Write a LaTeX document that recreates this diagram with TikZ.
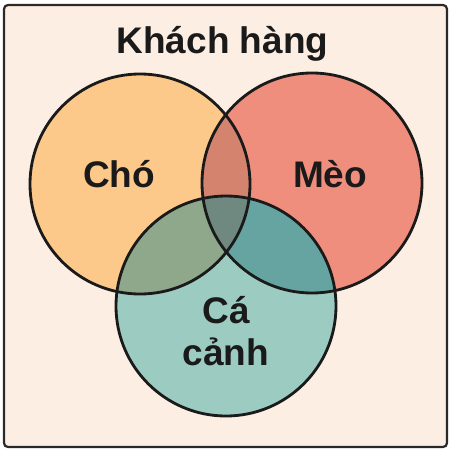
\documentclass[tikz,border=0pt]{standalone}
\usepackage{fontspec}
\setmainfont{Liberation Sans}
\definecolor{bg}{HTML}{FCEEE2}
\definecolor{framec}{HTML}{2A2A2A}
\definecolor{cdog}{HTML}{FDC98B}
\definecolor{ccat}{HTML}{EF8E7D}
\definecolor{cfish}{HTML}{9BCBC1}
\definecolor{cdc}{HTML}{D4836F}
\definecolor{cdf}{HTML}{8FA78A}
\definecolor{ccf}{HTML}{66A4A1}
\definecolor{call}{HTML}{6F8980}
\definecolor{txt}{HTML}{1A1A1A}
\begin{document}
\begin{tikzpicture}[x=1pt,y=-1pt,
  vennc/.style={circle, draw=txt, line width=2.8pt, minimum size=220pt, inner sep=0pt},
  lbl/.style={font=\bfseries\fontsize{37}{42}\selectfont, text=txt, inner sep=0pt}]
\useasboundingbox (0,0) rectangle (454,453);
\fill[white] (0,0) rectangle (454,453);
\def\dogc{(140,184) circle[radius=110]}
\def\catc{(312,183) circle[radius=110]}
\def\fishc{(226,306) circle[radius=110]}
\node[draw=framec, line width=2.2pt, fill=bg, rounded corners=4pt,
  minimum width=443pt, minimum height=442pt, inner sep=0pt] (frame) at (225.5,226) {};
\fill[cdog] \dogc;
\fill[ccat] \catc;
\fill[cfish] \fishc;
\begin{scope}\clip \dogc; \fill[cdc] \catc; \fill[cdf] \fishc; \end{scope}
\begin{scope}\clip \catc; \fill[ccf] \fishc; \end{scope}
\begin{scope}\clip \dogc; \clip \catc; \fill[call] \fishc; \end{scope}
\node[vennc] (dog) at (140,184) {};
\node[vennc] (cat) at (312,183) {};
\node[vennc] (fish) at (226,306) {};
\node[lbl, anchor=base] (title) at (222.5,53) {Khách hàng};
\node[lbl, anchor=base] (tdog) at (119,187) {Chó};
\node[lbl, anchor=base] (tcat) at (330,187) {Mèo};
\node[lbl, align=center] (tfish) at (226,331) {Cá\\cảnh};
\end{tikzpicture}
\end{document}
